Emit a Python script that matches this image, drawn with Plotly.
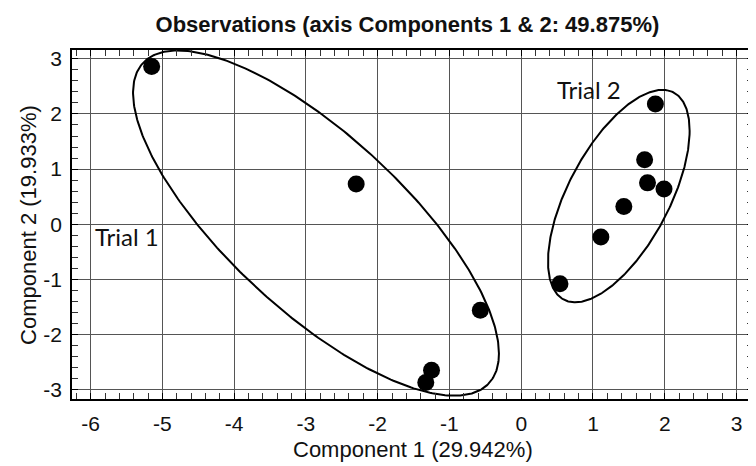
import numpy as np
import plotly.graph_objects as go

# Observation scores (Component 1, Component 2)
obs_x = [-5.15, -2.30, -0.57, -1.25, -1.33, 1.87, 1.72, 1.76, 1.99, 1.43, 1.11, 0.54]
obs_y = [2.86, 0.73, -1.56, -2.65, -2.87, 2.18, 1.17, 0.75, 0.64, 0.32, -0.23, -1.08]

# Group ellipses: centre and shape matrix (half-extent^2 and cross term)
ell_names = ["Trial 1", "Trial 2"]
ell_cx = [-2.86, 1.36]
ell_cy = [0.02, 0.51]
ell_sxx = [6.50, 0.974]
ell_syy = [9.80, 3.713]
ell_sxy = [-6.03, 1.17]

# Group labels
lab_text = ["Trial 1", "Trial 2"]
lab_x = [-5.5, 0.95]
lab_y = [-0.23, 2.44]

x_ticks = [-6, -5, -4, -3, -2, -1, 0, 1, 2, 3]
y_ticks = [-3, -2, -1, 0, 1, 2, 3]

fig = go.Figure()

t = np.linspace(0, 2 * np.pi, 400)
for i in range(len(ell_cx)):
    M = np.array([[ell_sxx[i], ell_sxy[i]], [ell_sxy[i], ell_syy[i]]])
    L = np.linalg.cholesky(M)
    pts = L @ np.vstack([np.cos(t), np.sin(t)])
    fig.add_trace(go.Scatter(
        x=ell_cx[i] + pts[0], y=ell_cy[i] + pts[1], mode="lines",
        line=dict(color="black", width=2), hoverinfo="skip", name=ell_names[i]))

fig.add_trace(go.Scatter(x=obs_x, y=obs_y, mode="markers",
                         marker=dict(color="black", size=17), name="Observations"))

for txt, lx, ly in zip(lab_text, lab_x, lab_y):
    fig.add_annotation(x=lx, y=ly, text=txt, showarrow=False,
                       font=dict(family="Lato", size=24, color="#111"),
                       xanchor="center", yanchor="middle")

FONT = "Liberation Sans"

axis_common = dict(
    showline=True, linecolor="black", linewidth=1.5, mirror="allticks",
    showgrid=True, gridcolor="#555", gridwidth=1, zeroline=False,
    ticks="inside", ticklen=6, tickcolor="black", automargin=False,
    tickfont=dict(family=FONT, size=21, color="#111"),
    minor=dict(dtick=0.2, ticks="inside", ticklen=6, tickcolor="#333", showgrid=False),
)

fig.update_xaxes(range=[-6.26, 3.23], tickvals=x_ticks,
                 ticktext=[str(v) for v in x_ticks], ticklabelstandoff=5,
                 **axis_common)
fig.update_yaxes(range=[-3.17, 3.16], tickvals=y_ticks,
                 ticktext=[str(v) for v in y_ticks], ticklabelstandoff=4,
                 **axis_common)

# Axis titles
fig.add_annotation(xref="paper", yref="paper", x=0.5, y=-0.146,
                   text="Component 1 (29.942%)", showarrow=False,
                   xanchor="center", yanchor="middle",
                   font=dict(family=FONT, size=22, color="#111"))
fig.add_annotation(xref="paper", yref="paper", x=-0.064, y=0.5,
                   text="Component 2 (19.933%)", showarrow=False, textangle=-90,
                   xanchor="center", yanchor="middle",
                   font=dict(family=FONT, size=22, color="#111"))

# page body adds an 8px offset; size the figure so the plot lands in place
fig.update_layout(
    width=748, height=458,
    margin=dict(l=64, r=3, t=42, b=67),
    paper_bgcolor="white", plot_bgcolor="white",
    showlegend=False,
    title=dict(text="<b>Observations (axis Components 1 &amp; 2: 49.875%)</b>",
               x=0.534, xanchor="center", y=1 - 16 / 458, yanchor="middle",
               font=dict(family=FONT, size=22, color="#111")),
)

fig.write_html("out.html")
